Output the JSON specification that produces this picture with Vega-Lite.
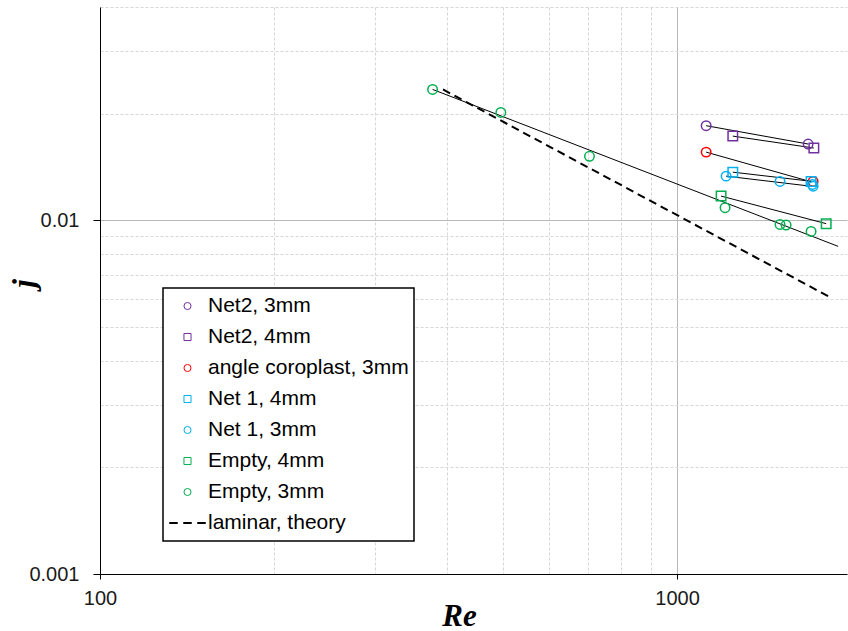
{
  "$schema": "https://vega.github.io/schema/vega-lite/v6.json",
  "width": 747,
  "height": 567,
  "autosize": {"type": "none"},
  "padding": {"left": 100, "top": 7, "right": 1, "bottom": 57},
  "background": "white",
  "config": {"view": {"stroke": null}, "font": "Liberation Sans", "legend": {"strokeWidth": 1.5}},
  "datasets": {
    "points": [
      {"series": "Net2, 3mm", "Re": 1123, "j": 0.01848},
      {"series": "Net2, 3mm", "Re": 1687, "j": 0.0164},
      {"series": "Net2, 4mm", "Re": 1249, "j": 0.01727},
      {"series": "Net2, 4mm", "Re": 1726, "j": 0.01598},
      {"series": "angle coroplast, 3mm", "Re": 1123, "j": 0.01556},
      {"series": "angle coroplast, 3mm", "Re": 1721, "j": 0.01286},
      {"series": "Net 1, 4mm", "Re": 1249, "j": 0.01366},
      {"series": "Net 1, 4mm", "Re": 1707, "j": 0.01286},
      {"series": "Net 1, 3mm", "Re": 1216, "j": 0.01331},
      {"series": "Net 1, 3mm", "Re": 1508, "j": 0.01286},
      {"series": "Net 1, 3mm", "Re": 1716, "j": 0.01261},
      {"series": "Net 1, 3mm", "Re": 1721, "j": 0.01247},
      {"series": "Empty, 4mm", "Re": 1192, "j": 0.01169},
      {"series": "Empty, 4mm", "Re": 1813, "j": 0.00977},
      {"series": "Empty, 3mm", "Re": 377, "j": 0.0234},
      {"series": "Empty, 3mm", "Re": 495, "j": 0.02015},
      {"series": "Empty, 3mm", "Re": 705, "j": 0.01514},
      {"series": "Empty, 3mm", "Re": 1211, "j": 0.01084},
      {"series": "Empty, 3mm", "Re": 1508, "j": 0.00972},
      {"series": "Empty, 3mm", "Re": 1545, "j": 0.00968},
      {"series": "Empty, 3mm", "Re": 1707, "j": 0.00929}
    ],
    "trends": [
      {"series": "Net2, 3mm", "Re": 1123, "j": 0.01848},
      {"series": "Net2, 3mm", "Re": 1687, "j": 0.0164},
      {"series": "Net2, 4mm", "Re": 1249, "j": 0.01727},
      {"series": "Net2, 4mm", "Re": 1726, "j": 0.01598},
      {"series": "angle coroplast, 3mm", "Re": 1123, "j": 0.01556},
      {"series": "angle coroplast, 3mm", "Re": 1710, "j": 0.01282},
      {"series": "Net 1, 4mm", "Re": 1249, "j": 0.01366},
      {"series": "Net 1, 4mm", "Re": 1716, "j": 0.01286},
      {"series": "Net 1, 3mm", "Re": 1216, "j": 0.01331},
      {"series": "Net 1, 3mm", "Re": 1716, "j": 0.01245},
      {"series": "Empty, 4mm", "Re": 1192, "j": 0.01169},
      {"series": "Empty, 4mm", "Re": 1813, "j": 0.00977},
      {"series": "Empty, 3mm", "Re": 377, "j": 0.0234},
      {"series": "Empty, 3mm", "Re": 1901, "j": 0.00843}
    ],
    "laminar": [
      {"series": "laminar, theory", "Re": 393, "j": 0.02339},
      {"series": "laminar, theory", "Re": 1842, "j": 0.00605}
    ]
  },
  "encoding": {
    "x": {
      "field": "Re",
      "type": "quantitative",
      "scale": {"type": "log", "domain": [100, 1970], "nice": false},
      "axis": {
        "title": "Re",
        "titleFont": "Liberation Serif",
        "titleFontSize": 31,
        "titleFontWeight": "bold",
        "titleFontStyle": "italic",
        "titleColor": "black",
        "titleX": 359,
        "titleY": 51,
        "titleBaseline": "alphabetic",
        "titleAlign": "center",
        "values": [100, 200, 300, 400, 500, 600, 700, 800, 900, 1000],
        "labelExpr": "datum.value == 100 ? '100' : (datum.value == 1000 ? '1000' : '')",
        "labelFont": "Liberation Sans",
        "labelFontSize": 20,
        "labelColor": "#1a1a1a",
        "labelPadding": 9,
        "labelFlush": false,
        "labelOverlap": false,
        "tickSize": 5,
        "tickColor": "black",
        "tickOpacity": {"condition": {"test": "datum.value == 100 || datum.value == 1000", "value": 1}, "value": 0},
        "domainColor": "black",
        "domainWidth": 1,
        "grid": true,
        "gridWidth": 1,
        "gridColor": {"condition": {"test": "datum.value == 1000", "value": "#b8b8b8"}, "value": "#d6d6d6"},
        "gridDash": {"condition": {"test": "datum.value == 1000", "value": []}, "value": [3, 2]}
      }
    },
    "y": {
      "field": "j",
      "type": "quantitative",
      "scale": {"type": "log", "domain": [0.001, 0.04], "nice": false},
      "axis": {
        "title": "j",
        "titleFont": "Liberation Serif",
        "titleFontSize": 31,
        "titleFontWeight": "bold",
        "titleFontStyle": "italic",
        "titleColor": "black",
        "titleAngle": 270,
        "titleX": -67,
        "titleY": 276,
        "titleBaseline": "alphabetic",
        "titleAlign": "center",
        "values": [0.001, 0.002, 0.003, 0.004, 0.005, 0.006, 0.007, 0.008, 0.009, 0.01, 0.02, 0.03, 0.04],
        "labelExpr": "datum.value == 0.01 ? '0.01' : (datum.value == 0.001 ? '0.001' : '')",
        "labelFont": "Liberation Sans",
        "labelFontSize": 20,
        "labelColor": "#1a1a1a",
        "labelPadding": 14,
        "labelFlush": false,
        "labelOverlap": false,
        "tickSize": 7,
        "tickColor": "black",
        "tickOpacity": {"condition": {"test": "datum.value == 0.01 || datum.value == 0.001", "value": 1}, "value": 0},
        "domainColor": "black",
        "domainWidth": 1,
        "grid": true,
        "gridWidth": 1,
        "gridColor": {"condition": {"test": "datum.value == 0.01", "value": "#b8b8b8"}, "value": "#d6d6d6"},
        "gridDash": {"condition": {"test": "datum.value == 0.01", "value": []}, "value": [3, 2]}
      }
    }
  },
  "layer": [
    {
      "data": {"name": "trends"},
      "mark": {"type": "line", "color": "black", "strokeWidth": 1},
      "encoding": {"detail": {"field": "series", "type": "nominal"}}
    },
    {
      "data": {"name": "laminar"},
      "mark": {"type": "line", "color": "black", "strokeWidth": 2, "strokeDash": [8, 5]},
      "encoding": {}
    },
    {
      "data": {"name": "points"},
      "mark": {"type": "point", "filled": false, "strokeWidth": 1.5, "size": 90, "opacity": 1},
      "encoding": {
        "color": {
          "field": "series",
          "type": "nominal",
          "scale": {
            "domain": ["Net2, 3mm", "Net2, 4mm", "angle coroplast, 3mm", "Net 1, 4mm", "Net 1, 3mm", "Empty, 4mm", "Empty, 3mm", "laminar, theory"],
            "range": ["#7030A0", "#7030A0", "#FF0000", "#00B0F0", "#00B0F0", "#00B050", "#00B050", "black"]
          },
          "legend": {
            "title": null,
            "orient": "none",
            "legendX": 63,
            "legendY": 281,
            "direction": "vertical",
            "strokeColor": "black",
            "fillColor": "white",
            "padding": 5,
            "symbolSize": 50,
            "symbolOffset": 9,
            "symbolStrokeWidth": 1,
            "labelOffset": 10,
            "labelFont": "Liberation Sans",
            "labelFontSize": 21,
            "labelColor": "black",
            "labelLimit": 400,
            "clipHeight": 26,
            "rowPadding": 5
          }
        },
        "shape": {
          "field": "series",
          "type": "nominal",
          "scale": {
            "domain": ["Net2, 3mm", "Net2, 4mm", "angle coroplast, 3mm", "Net 1, 4mm", "Net 1, 3mm", "Empty, 4mm", "Empty, 3mm", "laminar, theory"],
            "range": ["circle", "square", "circle", "square", "circle", "square", "circle", "M-5.09,-0.14H-2.83V0.14H-5.09ZM-1.13,-0.14H1.13V0.14H-1.13ZM2.83,-0.14H5.09V0.14H2.83Z"]
          },
          "legend": {
            "title": null,
            "orient": "none",
            "legendX": 63,
            "legendY": 281,
            "direction": "vertical",
            "strokeColor": "black",
            "fillColor": "white",
            "padding": 5,
            "symbolSize": 50,
            "symbolOffset": 9,
            "symbolStrokeWidth": 1,
            "labelOffset": 10,
            "labelFont": "Liberation Sans",
            "labelFontSize": 21,
            "labelColor": "black",
            "labelLimit": 400,
            "clipHeight": 26,
            "rowPadding": 5
          }
        }
      }
    }
  ]
}
